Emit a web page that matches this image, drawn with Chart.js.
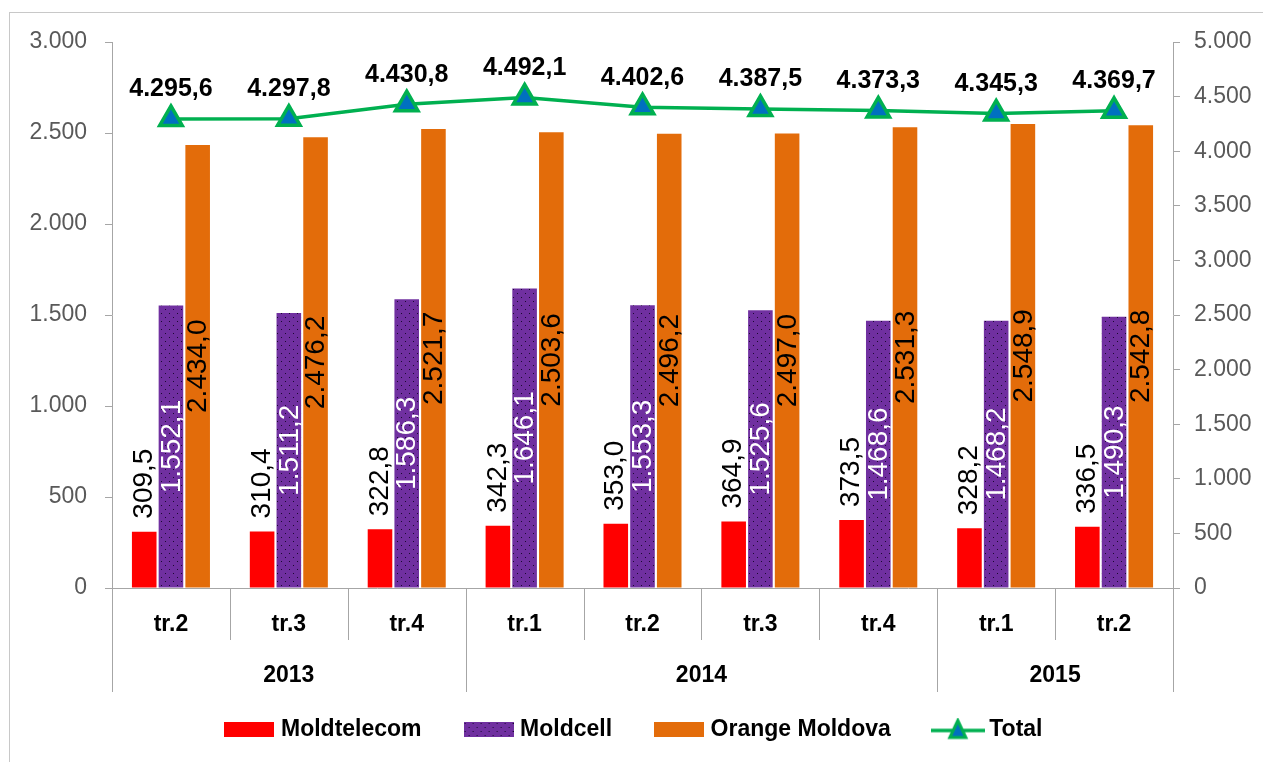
<!DOCTYPE html>
<html>
<head>
<meta charset="utf-8">
<script src="https://cdn.jsdelivr.net/npm/chart.js@4"></script>
<style>
  html, body { margin: 0; padding: 0; background: #fff; }
  #wrap { position: relative; width: 1263px; height: 762px; }
</style>
</head>
<body>
<div id="wrap"><canvas id="chart"></canvas></div>
<script>
// data
const quarters = ['tr.2', 'tr.3', 'tr.4', 'tr.1', 'tr.2', 'tr.3', 'tr.4', 'tr.1', 'tr.2'];
const years = [
  { label: '2013', from: 0, to: 2 },
  { label: '2014', from: 3, to: 6 },
  { label: '2015', from: 7, to: 8 }
];
const moldtelecom = [309.5, 310.4, 322.8, 342.3, 353.0, 364.9, 373.5, 328.2, 336.5];
const moldcell = [1552.1, 1511.2, 1586.3, 1646.1, 1553.3, 1525.6, 1468.6, 1468.2, 1490.3];
const orange = [2434.0, 2476.2, 2521.7, 2503.6, 2496.2, 2497.0, 2531.3, 2548.9, 2542.8];
const total = [4295.6, 4297.8, 4430.8, 4492.1, 4402.6, 4387.5, 4373.3, 4345.3, 4369.7];

const FONT = "'Liberation Sans', Arial, sans-serif";
const RED = '#FF0000', PURPLE = '#7030A0', ORANGE = '#E36C0A', GREEN = '#00B050', BLUE = '#0070C0';

// 1.552,1 style numbers
function fmt(v, dec) {
  var parts = v.toFixed(dec).split('.');
  var i = parts[0].replace(/\B(?=(\d{3})+(?!\d))/g, '.');
  return parts[1] ? i + ',' + parts[1] : i;
}

// dotted purple fill for Moldcell
function dotPattern() {
  var c = document.createElement('canvas');
  c.width = 8; c.height = 8;
  var g = c.getContext('2d');
  g.fillStyle = PURPLE;
  g.fillRect(0, 0, 8, 8);
  g.fillStyle = '#1a0830';
  g.fillRect(1, 1, 1, 1);
  g.fillRect(5, 5, 1, 1);
  return g.createPattern(c, 'repeat');
}
const purpleFill = dotPattern();

// legend swatches
function boxSwatch(fill) {
  var c = document.createElement('canvas');
  c.width = 50; c.height = 15;
  var g = c.getContext('2d');
  g.fillStyle = fill;
  g.fillRect(0, 0, 50, 15);
  return c;
}
function lineSwatch() {
  var c = document.createElement('canvas');
  c.width = 54; c.height = 24;
  var g = c.getContext('2d');
  g.strokeStyle = GREEN; g.lineWidth = 3.5;
  g.beginPath(); g.moveTo(0, 13); g.lineTo(54, 13); g.stroke();
  g.beginPath(); g.moveTo(27, 3); g.lineTo(35, 20); g.lineTo(19, 20); g.closePath();
  g.fillStyle = BLUE; g.fill();
  g.lineWidth = 3; g.stroke();
  return c;
}

const frame = {
  id: 'frame',
  beforeDraw(chart) {
    var ctx = chart.ctx;
    ctx.save();
    ctx.strokeStyle = '#C8C8C8';
    ctx.lineWidth = 1;
    ctx.strokeRect(9.5, 12.5, 2000, 2000);
    ctx.restore();
  }
};

// two level category axis: separators + year row
const yearAxis = {
  id: 'yearAxis',
  afterDraw(chart) {
    var ctx = chart.ctx, x = chart.scales.x, bottom = chart.chartArea.bottom;
    var starts = years.map(function (y) { return y.from; });
    ctx.save();
    ctx.strokeStyle = '#A6A6A6';
    ctx.lineWidth = 1;
    for (var i = 0; i <= quarters.length; i++) {
      var px = Math.round(x.getPixelForValue(i - 0.5)) + 0.5;
      var long = i === quarters.length || starts.indexOf(i) >= 0;
      ctx.beginPath();
      ctx.moveTo(px, bottom);
      ctx.lineTo(px, bottom + (long ? 104 : 52));
      ctx.stroke();
    }
    ctx.fillStyle = '#000';
    ctx.font = 'bold 23px ' + FONT;
    ctx.textAlign = 'center';
    ctx.textBaseline = 'middle';
    years.forEach(function (y) {
      var cx = (x.getPixelForValue(y.from - 0.5) + x.getPixelForValue(y.to + 0.5)) / 2;
      ctx.fillText(y.label, cx, bottom + 88);
    });
    ctx.restore();
  }
};

// value labels
const valueLabels = {
  id: 'valueLabels',
  afterDatasetsDraw(chart) {
    var ctx = chart.ctx;
    ctx.save();
    chart.data.datasets.forEach(function (ds, di) {
      var meta = chart.getDatasetMeta(di);
      meta.data.forEach(function (el, i) {
        var v = ds.data[i], txt = fmt(v, 1);
        if (ds.type === 'line') {
          ctx.font = 'bold 25px ' + FONT;
          ctx.fillStyle = '#000';
          ctx.textAlign = 'center';
          ctx.textBaseline = 'bottom';
          ctx.fillText(txt, el.x, el.y - 17);
          return;
        }
        ctx.font = '28px ' + FONT;
        ctx.textBaseline = 'middle';
        ctx.save();
        if (di === 0) {
          ctx.translate(el.x, el.y - 13);
          ctx.rotate(-Math.PI / 2);
          ctx.textAlign = 'left';
          ctx.fillStyle = '#000';
        } else {
          ctx.translate(el.x + 1, (el.y + el.base) / 2);
          ctx.rotate(-Math.PI / 2);
          ctx.textAlign = 'center';
          ctx.fillStyle = di === 1 ? '#fff' : '#000';
        }
        ctx.fillText(txt, 0, 0);
        ctx.restore();
      });
    });
    ctx.restore();
  }
};

const swatches = [boxSwatch(RED), boxSwatch(purpleFill), boxSwatch(ORANGE), lineSwatch()];

const data = {
  labels: quarters,
  datasets: [{
    type: 'bar',
    label: 'Moldtelecom',
    data: moldtelecom,
    backgroundColor: RED,
    yAxisID: 'y',
    order: 1
  }, {
    type: 'bar',
    label: 'Moldcell',
    data: moldcell,
    backgroundColor: purpleFill,
    yAxisID: 'y',
    order: 1
  }, {
    type: 'bar',
    label: 'Orange Moldova',
    data: orange,
    backgroundColor: ORANGE,
    yAxisID: 'y',
    order: 1
  }, {
    type: 'line',
    label: 'Total',
    data: total,
    yAxisID: 'y1',
    borderColor: GREEN,
    borderWidth: 3.5,
    tension: 0,
    pointStyle: 'triangle',
    pointRadius: 13,
    pointBackgroundColor: BLUE,
    pointBorderColor: GREEN,
    pointBorderWidth: 3.5,
    order: 0
  }]
};

const config = {
  data,
  options: {
    responsive: true,
    maintainAspectRatio: false,
    animation: false,
    datasets: { bar: { categoryPercentage: 0.68, barPercentage: 0.92 } },
    layout: { padding: { left: 9, right: 0, top: 42, bottom: 11 } },
    scales: {
      x: {
        grid: { display: false },
        border: { display: true, color: '#A6A6A6' },
        ticks: { padding: 15, color: '#000', font: { family: FONT, size: 23, weight: 'bold' } },
        afterFit: function (s) { s.height = 83; }
      },
      y: {
        position: 'left',
        min: 0, max: 3000,
        grid: { drawOnChartArea: false, tickLength: 7, color: '#A6A6A6' },
        border: { color: '#A6A6A6' },
        ticks: { stepSize: 500, padding: 18, color: '#595959', font: { family: FONT, size: 23 },
                 callback: function (v) { return fmt(v, 0); } },
        afterFit: function (s) { s.width = 103; }
      },
      y1: {
        position: 'right',
        min: 0, max: 5000,
        grid: { drawOnChartArea: false, tickLength: 7, color: '#A6A6A6' },
        border: { color: '#A6A6A6' },
        ticks: { stepSize: 500, padding: 14, color: '#595959', font: { family: FONT, size: 23 },
                 callback: function (v) { return fmt(v, 0); } },
        afterFit: function (s) { s.width = 90; }
      }
    },
    plugins: {
      tooltip: { enabled: false },
      legend: {
        position: 'bottom',
        labels: {
          usePointStyle: true,
          pointStyleWidth: 40,
          boxHeight: 15,
          padding: 47,
          color: '#000',
          font: { family: FONT, size: 23, weight: 'bold' },
          generateLabels: function (chart) {
            return chart.data.datasets.map(function (ds, i) {
              return { text: ds.label, pointStyle: swatches[i], fillStyle: '#000', strokeStyle: '#000',
                       lineWidth: 0, hidden: false, datasetIndex: i, fontColor: '#000' };
            });
          }
        }
      }
    }
  },
  plugins: [frame, yearAxis, valueLabels]
};

new Chart(document.getElementById('chart'), config);
</script>
</body>
</html>
